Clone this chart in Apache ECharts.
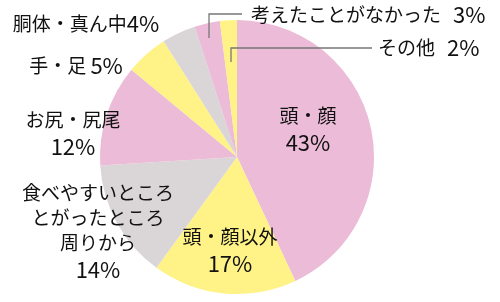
<!DOCTYPE html>
<html>
<head>
<meta charset="utf-8">
<script src="https://cdn.jsdelivr.net/npm/echarts@6/dist/echarts.min.js"></script>
<style>
  html, body { margin: 0; padding: 0; background: #fff; }
  #chart { width: 500px; height: 302px; }
</style>
</head>
<body>
<div id="chart"></div>
<script>
// データ（時計回り、上から）
var names = ['頭・顔', '頭・顔以外', '食べやすいところ\nとがったところ\n周りから', 'お尻・尻尾', '手・足', '胴体・真ん中', '考えたことがなかった', 'その他'];
var values = [43, 17, 14, 12, 5, 4, 3, 2];
var colors = ['#ebbbd7', '#fff387', '#dad6d7', '#ebbbd7', '#fff387', '#dad6d7', '#ebbbd7', '#fff387'];

// ラベル位置
var labelPos = [
  { x: 308, y: 130, align: 'center' },
  { x: 230, y: 251, align: 'center' },
  { x: 98, y: 232, align: 'center' },
  { x: 73, y: 134, align: 'center' },
  { x: 76, y: 66, align: 'center' },
  { x: 86, y: 24, align: 'center' },
  { x: 251, y: 15, align: 'left', line: [[209, 38], [209, 14], [242, 14]] },
  { x: 378, y: 48, align: 'left', line: [[231, 62], [231, 48], [372, 48]] }
];
var stacked = [true, true, true, true, false, false, false, false];

var fontCJK = '"Noto Sans CJK JP", sans-serif';

var myChart = echarts.init(document.getElementById('chart'));

var pieBase = {
  type: 'pie',
  center: [237, 157],
  radius: 137,
  startAngle: 90,
  clockwise: true,
  avoidLabelOverlap: false
};

var option = {
  animation: false,
  series: [
    Object.assign({}, pieBase, { // 扇形
      z: 2,
      itemStyle: { borderWidth: 0 },
      label: { show: false },
      labelLine: { show: false },
      data: names.map(function (n, i) {
        return { name: n, value: values[i], itemStyle: { color: colors[i] } };
      })
    }),
    Object.assign({}, pieBase, { // ラベルと引出線（上に重ねる）
      z: 5,
      silent: true,
      itemStyle: { color: 'rgba(0,0,0,0)', borderWidth: 0 },
      label: {
        show: true,
        position: 'outside',
        color: '#111',
        fontFamily: fontCJK,
        formatter: function (p) {
          var i = p.dataIndex;
          if (stacked[i]) {
            return '{a|' + p.name + '}\n{n|' + p.value + '%}';
          }
          if (i >= 6) return '{a|' + p.name + '}{w|' + p.value + '%}';
          var sep = i == 5 ? '' : ' ';
          return '{a|' + p.name + sep + '}{n|' + p.value + '%}';
        },
        rich: {
          a: { fontSize: 19, lineHeight: 25, color: '#111', fontFamily: fontCJK },
          n: { fontSize: 22, lineHeight: 28, color: '#111', fontFamily: fontCJK },
          w: { fontSize: 22, lineHeight: 28, color: '#111', fontFamily: fontCJK, padding: [0, 0, 0, 12] }
        }
      },
      labelLine: { show: false, lineStyle: { color: '#777', width: 1.3 } },
      labelLayout: function (params) {
        var pos = labelPos[params.dataIndex];
        var res = { x: pos.x, y: pos.y, align: pos.align, verticalAlign: 'middle', hideOverlap: false };
        if (pos.line) res.labelLinePoints = pos.line;
        return res;
      },
      data: names.map(function (n, i) {
        return {
          name: n,
          value: values[i],
          labelLine: { show: !!labelPos[i].line }
        };
      })
    })
  ]
};

myChart.setOption(option);
</script>
</body>
</html>
